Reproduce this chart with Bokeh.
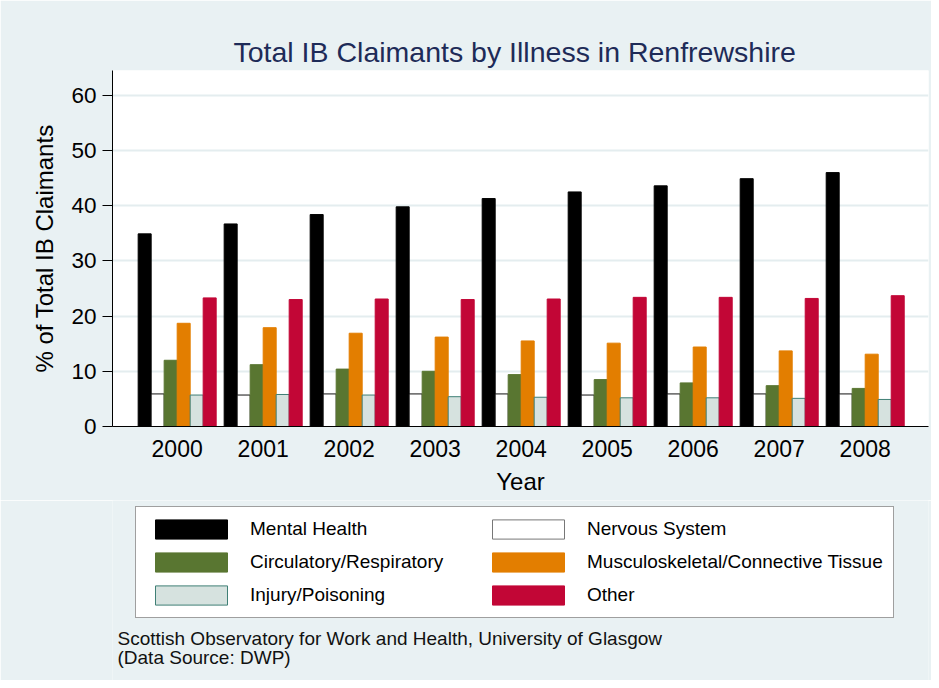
from bokeh.plotting import figure
from bokeh.layouts import column
from bokeh.models import ColumnDataSource, Range1d, FixedTicker, Legend, LegendItem, Label
from bokeh.embed import file_html
from bokeh.resources import INLINE

# ---- data ----
years = [2000, 2001, 2002, 2003, 2004, 2005, 2006, 2007, 2008]
year_labels = ["2000", "2001", "2002", "2003", "2004", "2005", "2006", "2007", "2008"]
mental_health = [34.9, 36.7, 38.4, 39.8, 41.3, 42.5, 43.6, 44.9, 46.0]
nervous_system = [5.9, 5.7, 5.9, 5.9, 5.9, 5.7, 5.9, 5.9, 5.9]
circulatory = [12.0, 11.2, 10.4, 10.0, 9.4, 8.5, 7.9, 7.4, 6.9]
musculoskeletal = [18.7, 17.9, 16.9, 16.2, 15.5, 15.1, 14.4, 13.7, 13.1]
injury = [5.7, 5.8, 5.7, 5.4, 5.3, 5.2, 5.2, 5.1, 4.9]
other = [23.3, 23.0, 23.1, 23.0, 23.1, 23.4, 23.4, 23.2, 23.7]
y_ticks = [0, 10, 20, 30, 40, 50, 60]

series_names = ["Mental Health", "Nervous System", "Circulatory/Respiratory",
                "Musculoskeletal/Connective Tissue", "Injury/Poisoning", "Other"]
series_values = [mental_health, nervous_system, circulatory, musculoskeletal, injury, other]
fills = ["#000000", "#ffffff", "#597631", "#e37e00", "#d6e2df", "#c20636"]
lines = ["#000000", "#111111", "#597631", "#e37e00", "#3f7f75", "#c20636"]
legend_lines = ["#000000", "#777777", "#597631", "#e37e00", "#3f7f75", "#c20636"]

title_text = "Total IB Claimants by Illness in Renfrewshire"
footer_lines = ["Scottish Observatory for Work and Health, University of Glasgow",
                "(Data Source: DWP)"]

FONT = "Liberation Sans"
BG = "#e9f1f3"
H_TOP = 500
H_BOT = 180
X_START, X_END = 1999.248, 2008.736

# ---------------- chart ----------------
p = figure(frame_width=816, frame_height=356,
           min_border_left=112, min_border_right=3, min_border_top=70,
           min_border_bottom=H_TOP - 70 - 356,
           x_range=Range1d(X_START, X_END), y_range=Range1d(0, 64.5),
           output_backend="svg", toolbar_location=None, tools="")
p.background_fill_color = "#ffffff"
p.border_fill_color = BG
p.outline_line_color = None

p.title.text = title_text
p.title.text_font = FONT
p.title.text_font_size = "28.5px"
p.title.text_font_style = "normal"
p.title.text_color = "#1e2b58"
p.title.align = "left"
p.title.offset = 121
p.title.standoff = 6

bar_w = 0.1512
sources = []
for i, (name, vals) in enumerate(zip(series_names, series_values)):
    off = (i - 2.5) * bar_w
    src = ColumnDataSource(dict(x=[y + off for y in years], top=vals))
    sources.append(src)
    p.vbar(x="x", top="top", bottom=0, width=bar_w, source=src,
           fill_color=fills[i], line_color=lines[i], line_width=1)

p.xgrid.grid_line_color = None
p.ygrid.grid_line_color = "#e4edef"
p.ygrid.grid_line_width = 2
p.ygrid.ticker = FixedTicker(ticks=y_ticks)

p.yaxis.ticker = FixedTicker(ticks=y_ticks)
p.yaxis.axis_label = "% of Total IB Claimants"
p.yaxis.axis_label_text_font = FONT
p.yaxis.axis_label_text_font_size = "24px"
p.yaxis.axis_label_text_font_style = "normal"
p.yaxis.axis_label_text_color = "#000000"
p.yaxis.axis_label_standoff = 10
p.yaxis.major_label_text_font = FONT
p.yaxis.major_label_text_font_size = "22.5px"
p.yaxis.major_label_text_color = "#000000"
p.yaxis.major_label_standoff = 6
p.yaxis.major_tick_out = 10
p.yaxis.major_tick_in = 0
p.yaxis.minor_tick_line_color = None
p.yaxis.axis_line_color = "#000000"
p.yaxis.major_tick_line_color = "#000000"

p.xaxis.ticker = FixedTicker(ticks=years)
p.xaxis.major_label_overrides = {y: l for y, l in zip(years, year_labels)}
p.xaxis.axis_label = "Year"
p.xaxis.axis_label_text_font = FONT
p.xaxis.axis_label_text_font_size = "24px"
p.xaxis.axis_label_text_font_style = "normal"
p.xaxis.axis_label_text_color = "#000000"
p.xaxis.axis_label_standoff = 8
p.xaxis.major_label_text_font = FONT
p.xaxis.major_label_text_font_size = "23px"
p.xaxis.major_label_text_color = "#000000"
p.xaxis.major_label_standoff = 13
p.xaxis.major_tick_out = 0
p.xaxis.major_tick_in = 0
p.xaxis.minor_tick_line_color = None
p.xaxis.axis_line_color = "#000000"

# ---------------- legend + source note (second panel, same frame alignment) ----------------
# its y range lies far above the data, so the legend proxy bars are not drawn here
q = figure(frame_width=816, frame_height=H_BOT,
           min_border_left=112, min_border_right=3, min_border_top=0, min_border_bottom=0,
           x_range=Range1d(X_START, X_END), y_range=Range1d(5000, 5000 + H_BOT),
           x_axis_type=None, y_axis_type=None,
           output_backend="svg", toolbar_location=None, tools="")
q.background_fill_color = BG
q.border_fill_color = BG
q.outline_line_color = None
q.grid.grid_line_color = None

leg_renderers = []
for i in range(len(series_names)):
    r = q.vbar(x="x", top="top", bottom=0, width=bar_w, source=sources[i],
               fill_color=fills[i], line_color=legend_lines[i], line_width=1)
    leg_renderers.append(r)

items = [LegendItem(label=n, renderers=[r]) for n, r in zip(series_names, leg_renderers)]
legend = Legend(items=items, location=(23, 62), orientation="horizontal", ncols=2,
                glyph_width=90, glyph_height=24, label_standoff=14, label_width=224,
                spacing=9, padding=10, margin=0,
                label_text_font=FONT, label_text_font_size="19px", label_text_color="#000000",
                border_line_color="#404040", border_line_width=1.5,
                background_fill_color="#ffffff", background_fill_alpha=1.0)
q.add_layout(legend, "center")

q.add_layout(Label(x=5, y=42, x_units="screen", y_units="screen",
                   text=footer_lines[0],
                   text_font=FONT, text_font_size="19px", text_color="#111111",
                   text_baseline="alphabetic"))
q.add_layout(Label(x=5, y=23, x_units="screen", y_units="screen",
                   text=footer_lines[1],
                   text_font=FONT, text_font_size="19px", text_color="#111111",
                   text_baseline="alphabetic"))

layout = column(p, q, spacing=0)
open("out.html", "w").write(file_html(layout, INLINE))
